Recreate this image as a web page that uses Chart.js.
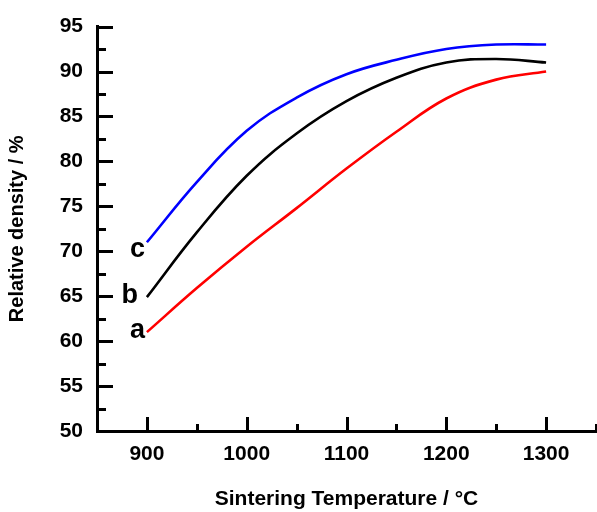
<!DOCTYPE html>
<html>
<head>
<meta charset="utf-8">
<script src="https://cdn.jsdelivr.net/npm/chart.js@4/dist/chart.umd.min.js"></script>
<style>
  body { margin: 0; background: #fff; }
  canvas { display: block; }
</style>
</head>
<body>
<canvas id="densityChart" width="597" height="512"></canvas>
<script>
const temps = [900, 950, 1000, 1050, 1100, 1150, 1200, 1250, 1300];
const seriesA = [61.0, 65.9, 70.5, 74.8, 79.2, 83.3, 87.0, 89.1, 90.0];
const seriesB = [64.9, 72.1, 78.4, 83.1, 86.7, 89.3, 91.0, 91.4, 91.0];
const seriesC = [71.0, 77.7, 83.4, 87.1, 89.7, 91.3, 92.5, 93.0, 93.0];
const seriesNames = ['a', 'b', 'c'];

const xTicks = [900, 1000, 1100, 1200, 1300];
const yTicks = [50, 55, 60, 65, 70, 75, 80, 85, 90, 95];

const font = 'Arial, "Liberation Sans", sans-serif';

function toPoints(values) {
  return values.map((v, i) => ({ x: temps[i], y: v }));
}

// inward tick marks, major + minor halfway between
const innerTicks = {
  id: 'innerTicks',
  afterDraw(chart) {
    const ctx = chart.ctx;
    const xs = chart.scales.x;
    const ys = chart.scales.y;
    const bottom = chart.chartArea.bottom;
    const left = chart.chartArea.left;
    ctx.save();
    ctx.strokeStyle = '#000';
    ctx.lineWidth = 3;
    ctx.lineCap = 'butt';
    const xStep = xTicks[1] - xTicks[0];
    xTicks.forEach(v => {
      const px = Math.round(xs.getPixelForValue(v)) + 0.5;
      ctx.beginPath(); ctx.moveTo(px, bottom); ctx.lineTo(px, bottom - 14); ctx.stroke();
      const m = Math.round(xs.getPixelForValue(v + xStep / 2)) + 0.5;
      ctx.beginPath(); ctx.moveTo(m, bottom); ctx.lineTo(m, bottom - 7); ctx.stroke();
    });
    const yStep = yTicks[1] - yTicks[0];
    yTicks.forEach(v => {
      const py = Math.round(ys.getPixelForValue(v)) + 0.5;
      if (v > yTicks[0]) {
        ctx.beginPath(); ctx.moveTo(left, py); ctx.lineTo(left + 16, py); ctx.stroke();
      }
      if (v < yTicks[yTicks.length - 1]) {
        const m = Math.round(ys.getPixelForValue(v + yStep / 2)) + 0.5;
        ctx.beginPath(); ctx.moveTo(left, m); ctx.lineTo(left + 9, m); ctx.stroke();
      }
    });
    ctx.restore();
  }
};

// series letters next to the first point of each curve
const curveLabels = {
  id: 'curveLabels',
  afterDatasetsDraw(chart) {
    const ctx = chart.ctx;
    const shift = { a: [-2, 6], b: [-9, 6], c: [-2, 15] };
    ctx.save();
    ctx.font = 'bold 27px ' + font;
    ctx.fillStyle = '#000';
    ctx.textAlign = 'right';
    ctx.textBaseline = 'alphabetic';
    chart.data.datasets.forEach((ds, i) => {
      const pt = chart.getDatasetMeta(i).data[0];
      const s = shift[ds.label];
      ctx.fillText(ds.label, pt.x + s[0], pt.y + s[1]);
    });
    ctx.restore();
  }
};

const ctx = document.getElementById('densityChart');
new Chart(ctx, {
  type: 'line',
  data: {
    datasets: [
      { label: seriesNames[0], data: toPoints(seriesA), borderColor: '#ff0000' },
      { label: seriesNames[1], data: toPoints(seriesB), borderColor: '#000000' },
      { label: seriesNames[2], data: toPoints(seriesC), borderColor: '#0000ff' }
    ]
  },
  options: {
    responsive: false,
    animation: false,
    layout: { padding: { top: 26, right: 1, left: 0, bottom: 0 } },
    elements: {
      line: { borderWidth: 2.6, tension: 0.4, fill: false },
      point: { radius: 0 }
    },
    plugins: {
      legend: { display: false },
      tooltip: { enabled: false }
    },
    scales: {
      x: {
        type: 'linear',
        min: 850,
        max: 1350,
        afterBuildTicks: s => { s.ticks = xTicks.map(v => ({ value: v })); },
        afterFit: s => { s.height = 81; },
        grid: { display: false, drawTicks: false },
        border: { display: true, color: '#000', width: 3 },
        ticks: {
          color: '#000',
          padding: 11,
          maxRotation: 0,
          callback: v => String(v),
          font: { family: font, size: 21, weight: 'bold' }
        },
        title: {
          display: true,
          text: 'Sintering Temperature / °C',
          color: '#000',
          padding: { top: 0, bottom: 0 },
          font: { family: font, size: 21, weight: 'bold' }
        }
      },
      y: {
        min: 50,
        max: 95,
        afterBuildTicks: s => { s.ticks = yTicks.map(v => ({ value: v })); },
        afterFit: s => { s.width = 97; },
        grid: { display: false, drawTicks: false },
        border: { display: true, color: '#000', width: 3 },
        ticks: {
          color: '#000',
          padding: 14,
          callback: v => String(v),
          font: { family: font, size: 21, weight: 'bold' }
        },
        title: {
          display: true,
          text: 'Relative density / %',
          color: '#000',
          padding: { top: 5, bottom: 0 },
          font: { family: font, size: 20, weight: 'bold' }
        }
      }
    }
  },
  plugins: [innerTicks, curveLabels]
});
</script>
</body>
</html>
